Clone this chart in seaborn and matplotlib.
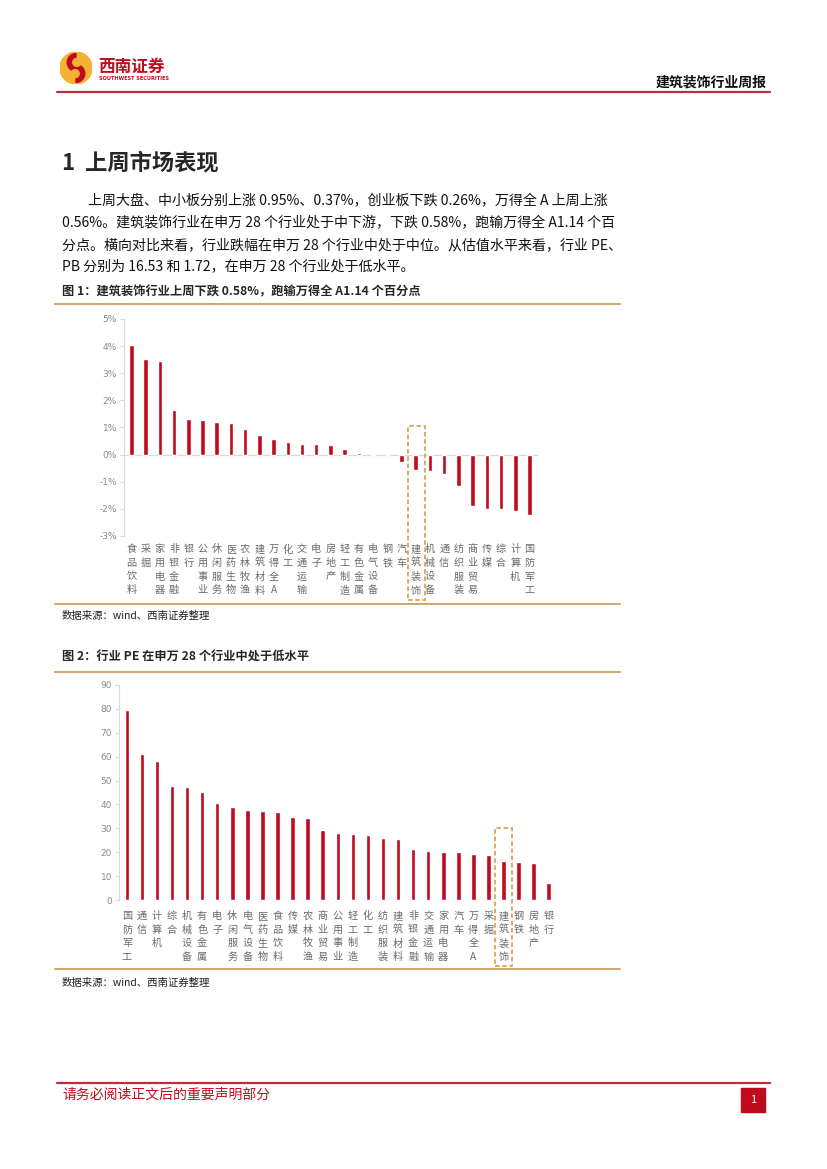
import numpy as np
import pandas as pd
import matplotlib
matplotlib.use('Agg')
import matplotlib.pyplot as plt
import seaborn as sns
from matplotlib.patches import Rectangle, Circle, Wedge
from matplotlib.lines import Line2D

# =========================
# DATA
# =========================
ind_week = ["食品饮料", "采掘", "家用电器", "非银金融", "银行", "公用事业", "休闲服务",
            "医药生物", "农林牧渔", "建筑材料", "万得全A", "化工", "交通运输", "电子",
            "房地产", "轻工制造", "有色金属", "电气设备", "钢铁", "汽车", "建筑装饰",
            "机械设备", "通信", "纺织服装", "商业贸易", "传媒", "综合", "计算机", "国防军工"]
chg_week = [4.03, 3.51, 3.44, 1.63, 1.30, 1.26, 1.20, 1.15, 0.95, 0.71, 0.56, 0.48,
            0.41, 0.41, 0.37, 0.21, 0.06, 0.01, -0.02, -0.27, -0.58, -0.60, -0.70,
            -1.14, -1.88, -2.00, -2.02, -2.08, -2.23]

ind_pe = ["国防军工", "通信", "计算机", "综合", "机械设备", "有色金属", "电子", "休闲服务",
          "电气设备", "医药生物", "食品饮料", "传媒", "农林牧渔", "商业贸易", "公用事业",
          "轻工制造", "化工", "纺织服装", "建筑材料", "非银金融", "交通运输", "家用电器",
          "汽车", "万得全A", "采掘", "建筑装饰", "钢铁", "房地产", "银行"]
pe_vals = [79.6, 61.0, 58.3, 47.9, 47.4, 45.2, 40.7, 38.8, 37.8, 37.4, 36.8, 34.9,
           34.2, 29.3, 28.1, 27.5, 27.2, 26.0, 25.7, 21.5, 20.6, 20.3, 20.0, 19.3,
           19.0, 16.53, 15.7, 15.3, 7.2]

y1_ticks = [-3, -2, -1, 0, 1, 2, 3, 4, 5]
y2_ticks = [0, 10, 20, 30, 40, 50, 60, 70, 80, 90]
highlight = "建筑装饰"

para = ["上周大盘、中小板分别上涨 0.95%、0.37%，创业板下跌 0.26%，万得全 A 上周上涨",
        "0.56%。建筑装饰行业在申万 28 个行业处于中下游，下跌 0.58%，跑输万得全 A1.14 个百",
        "分点。横向对比来看，行业跌幅在申万 28 个行业中处于中位。从估值水平来看，行业 PE、",
        "PB 分别为 16.53 和 1.72，在申万 28 个行业处于低水平。"]

# =========================
# STYLE
# =========================
sns.set_style("white")
plt.rcParams['font.family'] = ['Noto Sans CJK SC', 'DejaVu Sans']

RED = "#C00A1E"
TAN = "#D2A468"
BOX = "#D9A55A"
GRAY = "#8a8a8a"
LAB = "#6a6a6a"

W, H = 827, 1169
fig = plt.figure(figsize=(8.27, 11.69), dpi=100)


def fx(x):
    return x / W


def fy(y):
    return 1 - y / H


def hline(x0, x1, y, color, lw):
    fig.add_artist(Line2D([fx(x0), fx(x1)], [fy(y), fy(y)], color=color, lw=lw))


# =========================
# HEADER / FOOTER
# =========================
logo = fig.add_axes([fx(60), fy(84), fx(32), 32 / H])
logo.set_xlim(-1, 1)
logo.set_ylim(-1, 1)
logo.set_aspect('equal')
logo.axis('off')
logo.add_patch(Circle((0, 0), 1, color="#F2B233"))
logo.add_patch(Wedge((0, 0.35), 0.55, 90, 270, color=RED))
logo.add_patch(Wedge((0, -0.35), 0.55, 270, 90, color=RED))
logo.add_patch(Circle((0.05, 0.35), 0.25, color="#F2B233"))
logo.add_patch(Circle((-0.05, -0.35), 0.25, color="#F2B233"))

fig.text(fx(98), fy(67), "西南证券", color=RED, fontsize=12, fontweight='bold', va='center')
fig.text(fx(99), fy(78), "SOUTHWEST SECURITIES", color=RED, fontsize=3.6,
         fontweight='bold', va='center', family='DejaVu Sans')
fig.text(fx(767), fy(82), "建筑装饰行业周报", fontsize=10, fontweight='bold',
         ha='right', va='center', color="#111111")
hline(57, 770, 92, "#B8303A", 1.6)

hline(57, 770, 1083, "#B8303A", 1.6)
fig.text(fx(62), fy(1095), "请务必阅读正文后的重要声明部分", color=RED, fontsize=10, va='center')
fig.add_artist(Rectangle((fx(741), fy(1112)), fx(24), 24 / H, color=RED))
fig.text(fx(753), fy(1100), "1", color="white", fontsize=8, ha='center', va='center')

# =========================
# SECTION TEXT
# =========================
fig.text(fx(62), fy(163), "1  上周市场表现", fontsize=16, fontweight='bold', va='center')
line_x = [88, 62, 62, 62]
line_y = [201, 223, 245, 266]
for t, x, y in zip(para, line_x, line_y):
    fig.text(fx(x), fy(y), t, fontsize=10.1, va='center', color="#111111")

# =========================
# CHART 1
# =========================
fig.text(fx(62), fy(292), "图 1：建筑装饰行业上周下跌 0.58%，跑输万得全 A1.14 个百分点",
         fontsize=8.8, fontweight='bold', va='center')
hline(55, 620, 304, TAN, 1.4)
hline(55, 620, 604, TAN, 1.4)
fig.text(fx(62), fy(616), "数据来源：wind、西南证券整理", fontsize=7.5, va='center',
         color="#222222")

df1 = pd.DataFrame({"行业": ind_week, "涨跌幅": chg_week})
ax1 = fig.add_axes([fx(124), fy(536), fx(414), 217 / H])
sns.barplot(data=df1, x="行业", y="涨跌幅", color=RED, width=0.32, saturation=1, ax=ax1)
ax1.set_xlim(-0.52, len(ind_week) - 0.4)
ax1.set_ylim(-3, 5)
ax1.set_yticks(y1_ticks)
ax1.set_yticklabels([f"{v}%" for v in y1_ticks], color=GRAY, fontsize=6.5, family='DejaVu Sans')
ax1.axhline(0, color="#d9d9d9", lw=0.9, zorder=0)
ax1.set_xticks(range(len(ind_week)))
ax1.set_xticklabels(["\n".join(n) for n in ind_week], color=LAB, fontsize=7.3,
                    linespacing=1.45, va='top')
ax1.tick_params(axis='x', length=0, pad=6)
ax1.tick_params(axis='y', length=3, color="#d9d9d9", pad=2, left=True)
ax1.set_xlabel("")
ax1.set_ylabel("")
for s in ["top", "right", "bottom"]:
    ax1.spines[s].set_visible(False)
ax1.spines["left"].set_color("#d9d9d9")
i1 = ind_week.index(highlight)
ax1.add_patch(Rectangle((i1 - 0.55, -5.35), 1.2, 5.35 + 1.04, fill=False, ec=BOX,
                        lw=1.3, ls=(0, (2.5, 1.5)), clip_on=False))

# =========================
# CHART 2
# =========================
fig.text(fx(62), fy(657), "图 2：行业 PE 在申万 28 个行业中处于低水平",
         fontsize=8.8, fontweight='bold', va='center')
hline(55, 620, 672, TAN, 1.4)
hline(55, 620, 969, TAN, 1.4)
fig.text(fx(62), fy(983), "数据来源：wind、西南证券整理", fontsize=7.5, va='center',
         color="#222222")

df2 = pd.DataFrame({"行业": ind_pe, "PE": pe_vals})
ax2 = fig.add_axes([fx(119), fy(900), fx(438), 215 / H])
sns.barplot(data=df2, x="行业", y="PE", color=RED, width=0.3, saturation=1, ax=ax2)
ax2.set_xlim(-0.52, len(ind_pe) - 0.45)
ax2.set_ylim(0, 90)
ax2.set_yticks(y2_ticks)
ax2.set_yticklabels([str(v) for v in y2_ticks], color=GRAY, fontsize=6.5, family='DejaVu Sans')
ax2.axhline(0, color="#d9d9d9", lw=0.9, zorder=0)
ax2.set_xticks(range(len(ind_pe)))
ax2.set_xticklabels(["\n".join(n) for n in ind_pe], color=LAB, fontsize=7.3,
                    linespacing=1.45, va='top')
ax2.tick_params(axis='x', length=0, pad=8)
ax2.tick_params(axis='y', length=3, color="#d9d9d9", pad=2, left=True)
ax2.set_xlabel("")
ax2.set_ylabel("")
for s in ["top", "right", "bottom"]:
    ax2.spines[s].set_visible(False)
ax2.spines["left"].set_color("#d9d9d9")
i2 = ind_pe.index(highlight)
ax2.add_patch(Rectangle((i2 - 0.58, -27.6), 1.15, 27.6 + 30, fill=False, ec=BOX,
                        lw=1.3, ls=(0, (2.5, 1.5)), clip_on=False))

fig.savefig("out.png", dpi=100)
